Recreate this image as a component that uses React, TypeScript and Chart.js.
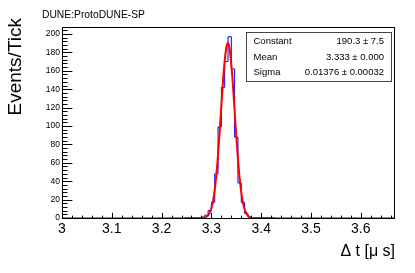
import React, { useEffect, useRef } from "react";
import { Chart, registerables } from "chart.js";

Chart.register(...registerables);

// Histogram definition (ROOT-style TH1: 100 bins from 3.0 to 3.6667)
const histLow = 3.0;
const binWidth = 1 / 150;
const nBins = 100;
const firstFilledBin = 42;
const binCounts = [1, 3, 8, 17, 48, 99, 142, 170, 197, 162, 88, 38, 17, 5, 1];

// Gaussian fit curve
const fitX = [3.246, 3.26, 3.27, 3.28, 3.285, 3.29, 3.295, 3.3, 3.305, 3.31, 3.315, 3.32, 3.325, 3.33, 3.333, 3.336, 3.341, 3.346, 3.351, 3.356, 3.361, 3.366, 3.371, 3.376, 3.381, 3.386, 3.396, 3.41, 3.426];
const fitY = [0, 0, 0, 0.1, 0.4, 1.4, 4.2, 10.7, 24.0, 47.0, 80.9, 121.8, 160.7, 185.8, 190.3, 185.8, 160.7, 121.8, 80.9, 47.0, 24.0, 10.7, 4.2, 1.4, 0.4, 0.1, 0, 0, 0];

// Axis ticks
const xMajorTicks = [3, 3.1, 3.2, 3.3, 3.4, 3.5, 3.6];
const xTickLabels = ["3", "3.1", "3.2", "3.3", "3.4", "3.5", "3.6"];
const yMajorTicks = [0, 20, 40, 60, 80, 100, 120, 140, 160, 180, 200];
const yTickLabels = ["0", "20", "40", "60", "80", "100", "120", "140", "160", "180", "200"];

// Stats box
const statNames = ["Constant", "Mean", "Sigma"];
const statValues = ["190.3 \u00b1 7.5", "3.333 \u00b1 0.000", "0.01376 \u00b1 0.00032"];

const headerText = "DUNE:ProtoDUNE-SP";
const xTitle = "\u0394 t [\u03bc s]";
const yTitle = "Events/Tick";

const FONT = "'Liberation Sans', Arial, Helvetica, sans-serif";

export default function App() {
  const ref = useRef<HTMLCanvasElement | null>(null);

  useEffect(() => {
    if (!ref.current) return;

    const histPts: { x: number; y: number }[] = [];
    for (let k = 0; k < nBins; k++) {
      const idx = k - firstFilledBin;
      const v = idx >= 0 && idx < binCounts.length ? binCounts[idx] : 0;
      histPts.push({ x: histLow + k * binWidth, y: v });
    }
    histPts.push({ x: histLow + nBins * binWidth, y: histPts[nBins - 1].y });

    const fitPts = fitX.map((x, i) => ({ x, y: fitY[i] }));

    const rootPlugin = {
      id: "rootStyle",
      afterDraw(chart: any) {
        const ctx = chart.ctx as CanvasRenderingContext2D;
        const area = chart.chartArea;
        const xs = chart.scales.x;
        const ys = chart.scales.y;
        ctx.save();

        // frame
        ctx.strokeStyle = "#000";
        ctx.lineWidth = 1;
        ctx.strokeRect(area.left + 0.5, area.top + 0.5, area.right - area.left, area.bottom - area.top);

        // x ticks
        ctx.beginPath();
        for (let i = 0; i <= 33; i++) {
          const v = 3 + i * 0.02;
          if (v > xs.max + 1e-9) break;
          const px = Math.round(xs.getPixelForValue(v)) + 0.5;
          const len = i % 5 === 0 ? 5.7 : 2.9;
          ctx.moveTo(px, area.bottom + 0.5);
          ctx.lineTo(px, area.bottom + 0.5 - len);
        }
        // y ticks
        for (let i = 0; i <= 52; i++) {
          const v = i * 4;
          if (v > ys.max) break;
          const py = Math.round(ys.getPixelForValue(v)) + 0.5;
          const len = i % 5 === 0 ? 9.9 : 5;
          ctx.moveTo(area.left + 0.5, py);
          ctx.lineTo(area.left + 0.5 + len, py);
        }
        ctx.stroke();

        // y tick labels
        ctx.fillStyle = "#000";
        ctx.font = `8.5px ${FONT}`;
        ctx.textAlign = "right";
        ctx.textBaseline = "middle";
        yMajorTicks.forEach((v, i) => {
          ctx.fillText(yTickLabels[i], area.left - 2, ys.getPixelForValue(v));
        });

        // x tick labels
        ctx.font = `14px ${FONT}`;
        ctx.textAlign = "center";
        ctx.textBaseline = "alphabetic";
        xMajorTicks.forEach((v, i) => {
          ctx.fillText(xTickLabels[i], xs.getPixelForValue(v), 233);
        });

        // x title
        ctx.font = `16px ${FONT}`;
        ctx.textAlign = "right";
        ctx.fillText(xTitle, area.right + 1, 256);

        // y title
        ctx.save();
        ctx.translate(20.5, 18);
        ctx.rotate(-Math.PI / 2);
        ctx.font = `19px ${FONT}`;
        ctx.textAlign = "right";
        ctx.textBaseline = "alphabetic";
        ctx.fillText(yTitle, 0, 0);
        ctx.restore();

        // header
        ctx.font = `10.3px ${FONT}`;
        ctx.textAlign = "left";
        ctx.fillText(headerText, 42, 18);

        // stats box
        const bx = 246.5, by = 32.5, bw = 145, bh = 49;
        ctx.fillStyle = "#fff";
        ctx.fillRect(bx, by, bw, bh);
        ctx.strokeStyle = "#444";
        ctx.lineWidth = 1;
        ctx.strokeRect(bx, by, bw, bh);
        ctx.fillStyle = "#000";
        ctx.font = `9.5px ${FONT}`;
        ctx.textBaseline = "middle";
        statNames.forEach((n, i) => {
          const cy = by + 9 + i * 15.5;
          ctx.textAlign = "left";
          ctx.fillText(n, 253.5, cy);
          ctx.textAlign = "right";
          ctx.fillText(statValues[i], 384, cy);
        });

        ctx.restore();
      },
    };

    const chart = new Chart(ref.current, {
      type: "scatter",
      data: {
        datasets: [
          {
            label: "fit",
            data: fitPts,
            showLine: true,
            borderColor: "#ff0000",
            borderWidth: 2,
            pointRadius: 0,
            cubicInterpolationMode: "monotone",
            clip: 4,
          } as any,
          {
            label: "hist",
            data: histPts,
            showLine: true,
            stepped: "before",
            borderColor: "#0000ff",
            borderWidth: 1,
            pointRadius: 0,
            clip: 2,
          } as any,
        ],
      },
      options: {
        responsive: false,
        animation: false,
        events: [],
        layout: { padding: { left: 62, top: 27, right: 21, bottom: 55 } },
        scales: {
          x: { type: "linear", min: 3, max: 3 + nBins * binWidth, display: false },
          y: { type: "linear", min: 0, max: 207.6, display: false },
        },
        plugins: { legend: { display: false }, tooltip: { enabled: false }, title: { display: false } },
      },
      plugins: [rootPlugin],
    });

    return () => chart.destroy();
  }, []);

  return (
    <div style={{ position: "absolute", left: 0, top: 0, width: 415, height: 273, background: "#fff" }}>
      <canvas ref={ref} width={415} height={273} style={{ display: "block" }} />
    </div>
  );
}
